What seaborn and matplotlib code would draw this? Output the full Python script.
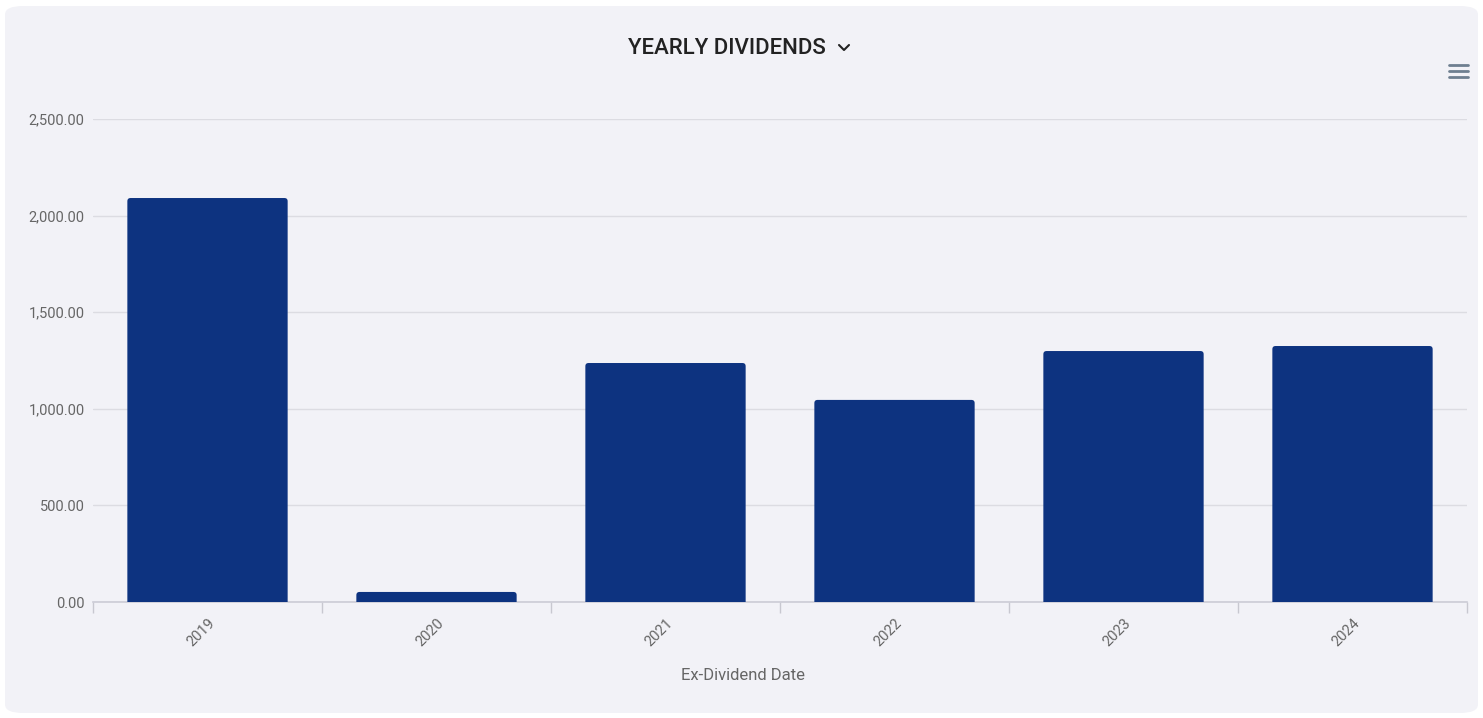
import numpy as np
import pandas as pd
import matplotlib.pyplot as plt
import seaborn as sns
from matplotlib.patches import FancyBboxPatch
from matplotlib.lines import Line2D

# data
years = ['2019', '2020', '2021', '2022', '2023', '2024']
dividends = [2091, 52, 1237, 1046, 1299, 1325]
y_ticks = [0, 500, 1000, 1500, 2000, 2500]

df = pd.DataFrame({'year': years, 'dividend': dividends})

sns.set_theme(style='white')
plt.rcParams['font.family'] = ['Roboto', 'DejaVu Sans']

panel = '#f2f2f7'
bar_col = '#0d3380'

fig = plt.figure(figsize=(14.83, 7.18), dpi=100)
fig.patch.set_facecolor('white')
# rounded card behind the chart
card = FancyBboxPatch((5 / 1483, 5 / 718), 1473 / 1483, 707 / 718,
                      boxstyle='round,pad=0,rounding_size=0.012',
                      transform=fig.transFigure, facecolor=panel,
                      edgecolor='none', zorder=-10)
fig.add_artist(card)

ax = fig.add_axes([93 / 1483, 1 - 602 / 718, (1467 - 93) / 1483, (602 - 119) / 718])
ax.set_facecolor(panel)
ax.patch.set_alpha(0)

sns.barplot(data=df, x='year', y='dividend', color=bar_col, width=0.7,
            saturation=1, ax=ax, zorder=3)

ax.set_ylim(0, 2500)
ax.set_xlim(-0.5, len(years) - 0.5)

# swap the plain bars for ones with slightly rounded tops
for p in list(ax.patches):
    x0, w, h = p.get_x(), p.get_width(), p.get_height()
    p.remove()
    ax.add_patch(FancyBboxPatch((x0, -30), w, h + 30,
                                boxstyle='round,pad=0,rounding_size=0.014',
                                mutation_aspect=1185, facecolor=bar_col,
                                edgecolor='none', zorder=3))

ax.set_yticks(y_ticks)
ax.set_yticklabels([f'{v:,.2f}' for v in y_ticks], color='#666666', fontsize=10.5)
ax.yaxis.grid(True, color='#dcdce2', linewidth=1)
ax.set_axisbelow(True)
ax.tick_params(axis='y', length=0, pad=6)

ax.set_xticks(range(len(years)))
ax.set_xticklabels(years, rotation=45, ha='right', rotation_mode='anchor',
                   color='#666666', fontsize=10.5)
ax.tick_params(axis='x', which='major', length=0, pad=10)
ax.set_xticks(np.arange(-0.5, len(years)), minor=True)
ax.tick_params(axis='x', which='minor', bottom=True, length=8,
               color='#c8c8d0', width=1)

for s in ['top', 'right', 'left']:
    ax.spines[s].set_visible(False)
ax.spines['bottom'].set_color('#ccccd6')
ax.spines['bottom'].set_linewidth(1.2)

ax.set_xlabel('')
ax.set_ylabel('')
fig.text(743 / 1483, 1 - 675 / 718, 'Ex-Dividend Date', ha='center', va='center',
         color='#666666', fontsize=12)

# title with chevron
fig.text(727 / 1483, 1 - 48 / 718, 'YEARLY DIVIDENDS', ha='center', va='center',
         fontsize=16, fontweight='medium', color='#222222')
cx, cy = 844, 48
fig.add_artist(Line2D([(cx - 5) / 1483, cx / 1483, (cx + 5) / 1483],
                      [1 - (cy - 3) / 718, 1 - (cy + 2) / 718, 1 - (cy - 3) / 718],
                      transform=fig.transFigure, color='#222222', linewidth=1.5))

# menu icon
for yy in [65, 71, 77]:
    fig.add_artist(Line2D([1449 / 1483, 1468 / 1483], [1 - yy / 718, 1 - yy / 718],
                          transform=fig.transFigure, color='#6e7f90', linewidth=2))

fig.savefig('out.png', dpi=100, facecolor=fig.get_facecolor())
